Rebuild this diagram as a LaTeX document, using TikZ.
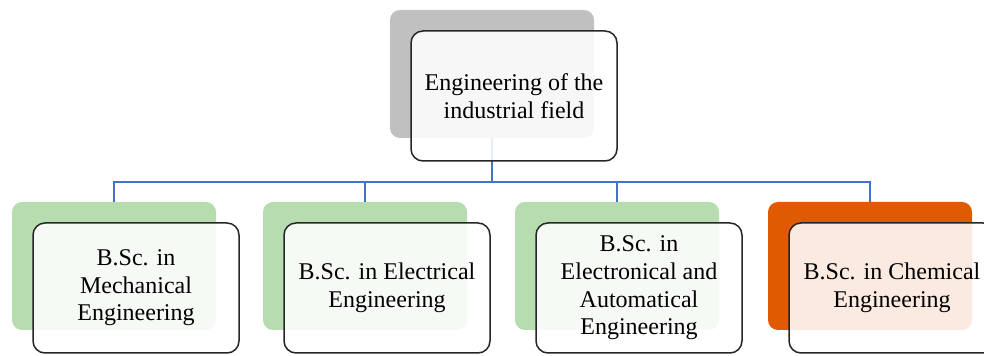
\documentclass[tikz,border=0pt]{standalone}
\usepackage{fontspec}
\setmainfont{Liberation Serif}
\usetikzlibrary{positioning}
\definecolor{backgray}{RGB}{192,192,192}
\definecolor{backgreen}{RGB}{182,220,176}
\definecolor{backorange}{RGB}{224,90,2}
\definecolor{linkblue}{RGB}{68,114,196}

\begin{document}
\begin{tikzpicture}[x=0.5pt, y=-0.5pt,
    font=\fontsize{12}{13.8}\selectfont,
    back/.style={rounded corners=5pt, inner sep=0pt,
                 minimum width=102pt, minimum height=64pt},
    front/.style={draw=black!85, line width=0.75pt, fill=white,
                  fill opacity=0.88, text opacity=1, rounded corners=6pt,
                  minimum width=103pt, minimum height=65pt,
                  inner sep=0pt, align=center},
    link/.style={draw=linkblue, line width=1pt}]

  \useasboundingbox (0,0) rectangle (984,356);
  \clip (0,0) rectangle (984,356);

  %% Back boxes
  \node[back, fill=backgray]   (top) at (492,74)  {};
  \node[back, fill=backgreen]  (b1)  at (114,266) {};
  \node[back, fill=backgreen]  (b2)  at (365,266) {};
  \node[back, fill=backgreen]  (b3)  at (617,266) {};
  \node[back, fill=backorange] (b4)  at (870,266) {};

  %% Connectors
  \coordinate (hub) at (492,182);
  \draw[link] (top.south) -- (hub);
  \draw[link] (hub) -| (b1.north);
  \draw[link] (hub) -| (b2.north);
  \draw[link] (hub) -| (b3.north);
  \draw[link] (hub) -| (b4.north);

  %% Front boxes
  \node[front] (ftop) at (514,96)
    {Engineering of the\\industrial field};
  \node[front] (f1) at (136,288)
    {B.Sc. in\\Mechanical\\Engineering};
  \node[front] (f2) at (387,288)
    {B.Sc. in Electrical\\Engineering};
  \node[front] (f3) at (639,288)
    {B.Sc. in\\Electronical and\\Automatical\\Engineering};
  \node[front] (f4) at (892,288)
    {B.Sc. in Chemical\\Engineering};
\end{tikzpicture}
\end{document}
